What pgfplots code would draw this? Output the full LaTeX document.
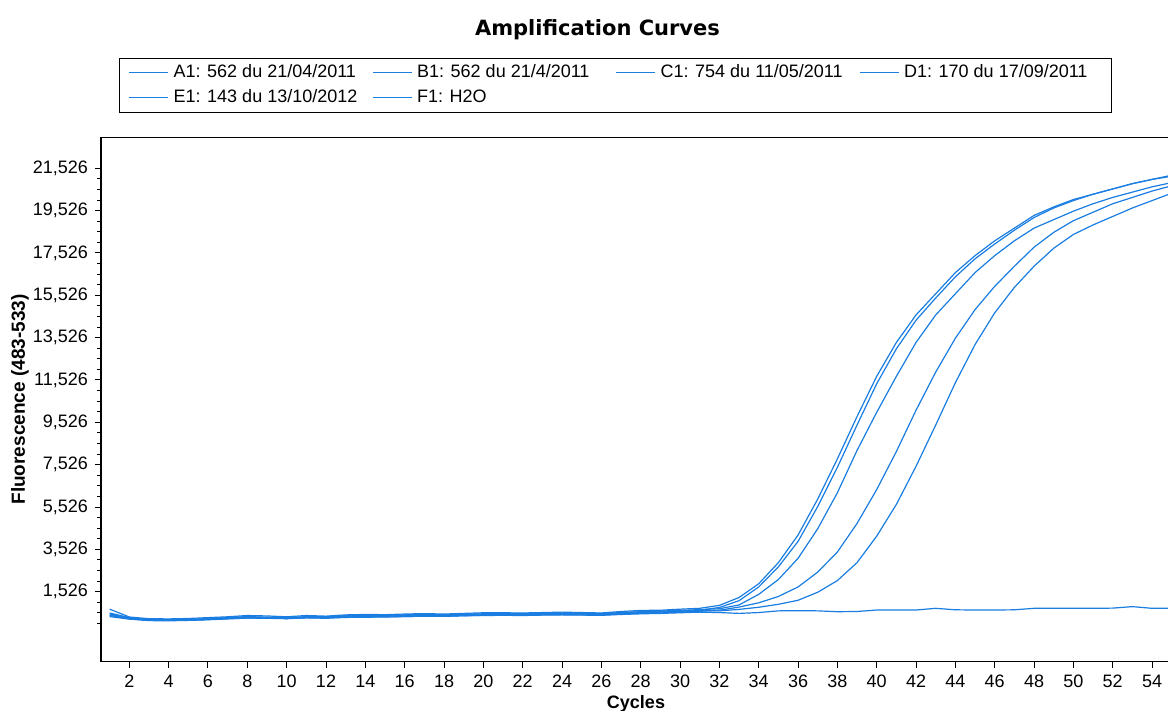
\documentclass[border=0pt]{standalone}
\usepackage{fontspec}
\setmainfont{Liberation Sans}
\newfontfamily\titlefont{DejaVu Sans}
\usepackage{pgfplots}
\pgfplotsset{compat=1.18}
\definecolor{curve}{RGB}{25,125,225}

\pgfplotstableread{
x y
1 700
2 330
3 250
4 240
5 260
6 300
7 340
8 400
9 380
10 340
11 400
12 370
13 430
14 450
15 440
16 470
17 490
18 470
19 500
20 530
21 530
22 520
23 540
24 560
25 540
26 520
27 590
28 640
29 650
30 700
31 740
32 880
33 1250
34 1900
35 2900
36 4200
37 5900
38 7800
39 9800
40 11700
41 13300
42 14600
43 15600
44 16600
45 17400
46 18100
47 18700
48 19300
49 19700
50 20050
51 20300
52 20550
53 20800
54 21000
55 21200
}\dataA

\pgfplotstableread{
x y
1 520
2 300
3 180
4 170
5 180
6 220
7 270
8 290
9 300
10 260
11 310
12 310
13 330
14 350
15 370
16 380
17 390
18 400
19 420
20 440
21 460
22 450
23 460
24 470
25 470
26 450
27 500
28 540
29 560
30 600
31 650
32 780
33 1100
34 1750
35 2700
36 3900
37 5550
38 7400
39 9400
40 11350
41 13000
42 14350
43 15400
44 16400
45 17250
46 17950
47 18600
48 19200
49 19650
50 20000
51 20300
52 20550
53 20800
54 21000
55 21150
}\dataB

\pgfplotstableread{
x y
1 480
2 260
3 210
4 200
5 210
6 260
7 300
8 350
9 320
10 280
11 350
12 340
13 390
14 400
15 400
16 430
17 460
18 430
19 470
20 480
21 500
22 490
23 500
24 510
25 500
26 490
27 540
28 580
29 610
30 640
31 680
32 720
33 900
34 1400
35 2100
36 3100
37 4500
38 6200
39 8200
40 10000
41 11700
42 13300
43 14600
44 15600
45 16600
46 17400
47 18100
48 18700
49 19100
50 19500
51 19850
52 20150
53 20400
54 20650
55 20850
}\dataC

\pgfplotstableread{
x y
1 400
2 240
3 160
4 150
5 170
6 200
7 240
8 280
9 270
10 250
11 290
12 270
13 310
14 320
15 330
16 350
17 370
18 360
19 390
20 410
21 420
22 410
23 430
24 440
25 430
26 420
27 470
28 500
29 520
30 560
31 600
32 650
33 800
34 1000
35 1300
36 1750
37 2450
38 3400
39 4750
40 6350
41 8150
42 10100
43 11900
44 13500
45 14850
46 15950
47 16900
48 17800
49 18500
50 19050
51 19450
52 19850
53 20150
54 20450
55 20700
}\dataD

\pgfplotstableread{
x y
1 430
2 270
3 190
4 180
5 200
6 240
7 280
8 330
9 310
10 300
11 330
12 330
13 370
14 380
15 390
16 410
17 430
18 420
19 450
20 470
21 480
22 470
23 490
24 500
25 490
26 480
27 530
28 570
29 590
30 620
31 640
32 620
33 690
34 790
35 930
36 1120
37 1500
38 2050
39 2900
40 4150
41 5650
42 7450
43 9400
44 11400
45 13200
46 14700
47 15900
48 16900
49 17750
50 18400
51 18850
52 19250
53 19650
54 20000
55 20350
}\dataE

\pgfplotstableread{
x y
1 350
2 230
3 170
4 170
5 180
6 210
7 250
8 280
9 280
10 260
11 290
12 290
13 320
14 330
15 340
16 350
17 370
18 360
19 390
20 400
21 410
22 400
23 420
24 430
25 420
26 410
27 450
28 480
29 500
30 530
31 560
32 540
33 500
34 540
35 620
36 630
37 620
38 580
39 590
40 660
41 660
42 660
43 740
44 670
45 660
46 660
47 670
48 740
49 740
50 740
51 740
52 750
53 820
54 740
55 740
}\dataF

\begin{document}
\begin{tikzpicture}
\useasboundingbox (0,0) rectangle (584pt,355.5pt);
\begin{axis}[
    name=ax,
    at={(50.5pt,24.65pt)}, anchor=south west,
    scale only axis,
    width=533.5pt, height=262.2pt,
    xmin=0.56, xmax=54.81,
    ymin=-1781, ymax=22990,
    axis lines*=left,
    axis line style={-, line width=0.75pt, black},
    tick align=outside,
    tick pos=left,
    xtick={2,4,...,54},
    ytick={1526,3526,...,21526},
    minor ytick={26,526,...,21526},
    major tick length=3pt,
    minor tick length=2pt,
    tick style={black, line width=0.5pt},
    scaled y ticks=false,
    yticklabel style={/pgf/number format/fixed, /pgf/number format/1000 sep={,}},
    /pgf/number format/assume math mode=true,
    ticklabel style={font=\fontsize{9}{10}\selectfont},
    every axis title shift=0pt,
    title={Amplification Curves},
    title style={at={(axis description cs:0.4653,1.2046)}, anchor=center,
        font=\titlefont\bfseries\fontsize{10.5}{12}\selectfont},
    xlabel={Cycles},
    xlabel style={at={(axis description cs:0.5014,-0.0902)}, anchor=base,
        font=\bfseries\fontsize{9}{10}\selectfont},
    ylabel={Fluorescence (483-533)},
    ylabel style={at={(axis description cs:-0.0759,0.5)}, anchor=center,
        font=\bfseries\fontsize{9.5}{11}\selectfont},
    legend columns=4,
    legend cell align=left,
    legend image code/.code={\draw[#1] (0pt,0pt) -- (19.5pt,0pt);},
    legend style={
        at={(axis description cs:0.0169,1.1518)}, anchor=north west,
        draw=black, line width=0.6pt,
        inner xsep=4.5pt, inner ysep=1pt,
        font=\fontsize{9}{10}\selectfont,
        column sep=0pt,
        nodes={inner xsep=2.35pt, inner ysep=2pt, text height=6.5pt, text depth=2pt},
    },
]
\addplot[curve, line width=0.6pt, no markers] table {\dataA};
\addlegendentry{\makebox[96.95pt][l]{A1: 562 du 21/04/2011}}
\addplot[curve, line width=0.6pt, no markers] table {\dataB};
\addlegendentry{\makebox[96.95pt][l]{B1: 562 du 21/4/2011}}
\addplot[curve, line width=0.6pt, no markers] table {\dataC};
\addlegendentry{\makebox[96.95pt][l]{C1: 754 du 11/05/2011}}
\addplot[curve, line width=0.6pt, no markers] table {\dataD};
\addlegendentry{\makebox[96.95pt][l]{D1: 170 du 17/09/2011}}
\addplot[curve, line width=0.6pt, no markers] table {\dataE};
\addlegendentry{\makebox[96.95pt][l]{E1: 143 du 13/10/2012}}
\addplot[curve, line width=0.6pt, no markers] table {\dataF};
\addlegendentry{\makebox[96.95pt][l]{F1: H2O}}
\end{axis}
\draw[line width=0.75pt] (ax.north west) -- (ax.north east);
\end{tikzpicture}
\end{document}
